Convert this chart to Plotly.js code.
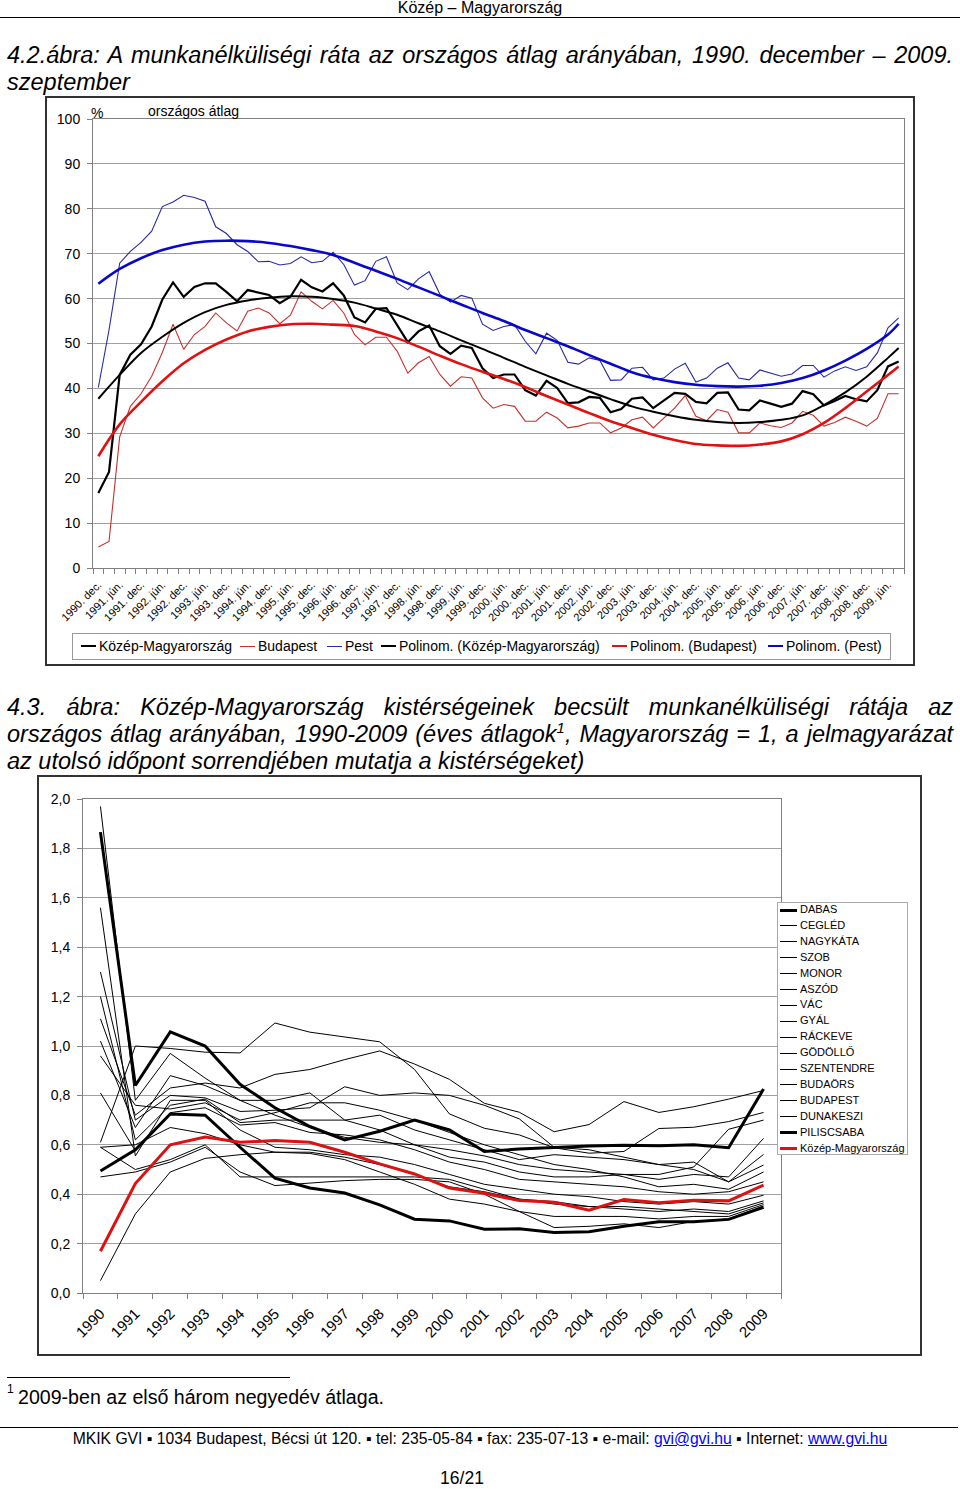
<!DOCTYPE html>
<html><head><meta charset="utf-8">
<script src="https://cdn.plot.ly/plotly-3.0.1.min.js"></script>
<style>
body{margin:0;background:#fff;}
#page{position:relative;width:960px;height:1489px;overflow:hidden;font-family:"Liberation Sans",Arial,sans-serif;color:#000;background:#fff;}
.abs{position:absolute;white-space:nowrap;}
.title{position:absolute;left:7px;width:946px;font-style:italic;font-size:23.5px;line-height:27px;}
.j{text-align:justify;text-align-last:justify;}
.box{position:absolute;box-sizing:border-box;border:2px solid #333;pointer-events:none;}
a{color:#0000ff;text-decoration:underline;}
</style></head>
<body><div id="page">
<div class="abs" style="left:0;width:960px;top:0px;text-align:center;font-size:16px;line-height:16px;">Közép – Magyarország</div>
<div class="abs" style="left:0;top:17px;width:960px;height:1px;background:#000;"></div>

<div class="title" style="top:42px;"><div class="j">4.2.ábra: A munkanélküliségi ráta az országos átlag arányában, 1990. december – 2009.</div><div>szeptember</div></div>

<div id="c1" style="position:absolute;left:45px;top:96px;width:870px;height:570px;"></div>
<div class="box" style="left:45px;top:96px;width:870px;height:570px;"></div>
<div class="abs" style="left:91px;top:105px;font-size:14px;line-height:16px;">%</div>
<div class="abs" style="left:148px;top:103px;font-size:14px;line-height:16px;">országos átlag</div>
<div id="leg1"></div>

<div class="title" style="top:694px;">
<div class="j">4.3. ábra: Közép-Magyarország kistérségeinek becsült munkanélküliségi rátája az</div>
<div class="j">országos átlag arányában, 1990-2009 (éves átlagok<sup style="font-size:15px;line-height:0;">1</sup>, Magyarország = 1, a jelmagyarázat</div>
<div>az utolsó időpont sorrendjében mutatja a kistérségeket)</div>
</div>

<div id="c2" style="position:absolute;left:37px;top:775px;width:885px;height:581px;"></div>
<div class="box" style="left:37px;top:775px;width:885px;height:581px;"></div>
<div id="leg2"></div>

<div class="abs" style="left:7px;top:1377px;width:283px;height:1px;background:#000;"></div>
<div class="abs" style="left:7px;top:1382px;font-size:12px;line-height:14px;">1</div>
<div class="abs" style="left:18px;top:1386px;font-size:19.6px;line-height:22px;">2009-ben az első három negyedév átlaga.</div>

<div class="abs" style="left:0;top:1427px;width:958px;height:1px;background:#000;"></div>
<div class="abs" style="left:0;width:960px;top:1430px;text-align:center;font-size:15.7px;line-height:18px;">MKIK GVI ▪ 1034 Budapest, Bécsi út 120. ▪ tel: 235-05-84 ▪ fax: 235-07-13 ▪ e-mail: <a>gvi@gvi.hu</a> ▪ Internet: <a>www.gvi.hu</a></div>
<div class="abs" style="left:0;width:924px;top:1470px;text-align:center;font-size:17.5px;line-height:16px;">16/21</div>
</div>

<script>
// ---------- Chart 1 data (quarterly, % of national average) ----------
const quarters = [
"1990. dec.",
"1991. márc.","1991. jún.","1991. szept.","1991. dec.",
"1992. márc.","1992. jún.","1992. szept.","1992. dec.",
"1993. márc.","1993. jún.","1993. szept.","1993. dec.",
"1994. márc.","1994. jún.","1994. szept.","1994. dec.",
"1995. márc.","1995. jún.","1995. szept.","1995. dec.",
"1996. márc.","1996. jún.","1996. szept.","1996. dec.",
"1997. márc.","1997. jún.","1997. szept.","1997. dec.",
"1998. márc.","1998. jún.","1998. szept.","1998. dec.",
"1999. márc.","1999. jún.","1999. szept.","1999. dec.",
"2000. márc.","2000. jún.","2000. szept.","2000. dec.",
"2001. márc.","2001. jún.","2001. szept.","2001. dec.",
"2002. márc.","2002. jún.","2002. szept.","2002. dec.",
"2003. márc.","2003. jún.","2003. szept.","2003. dec.",
"2004. márc.","2004. jún.","2004. szept.","2004. dec.",
"2005. márc.","2005. jún.","2005. szept.","2005. dec.",
"2006. márc.","2006. jún.","2006. szept.","2006. dec.",
"2007. márc.","2007. jún.","2007. szept.","2007. dec.",
"2008. márc.","2008. jún.","2008. szept.","2008. dec.",
"2009. márc.","2009. jún.","2009. szept."];

const kozep = [16.7,21.4,43,47.5,49.8,53.8,59.8,63.6,60.4,62.6,63.4,63.4,61.5,59.4,61.9,61.4,60.8,59,60.4,64.2,
62.5,61.6,63.4,60.7,55.8,54.7,57.7,57.9,54.2,50.3,52.7,54,49.4,47.7,49.5,49,44.5,42.3,43.1,43.1,
39.6,38.4,41.7,40.1,36.7,36.9,38.1,37.9,34.7,35.4,37.7,38,35.6,37.3,39,38.8,37,36.7,39,39.1,
35.3,35.1,37.3,36.6,35.9,36.6,39.4,38.7,36.2,37.2,38.3,37.6,37.1,39.6,44.9,46];

const budapest = [4.7,5.9,29.2,36,38.8,42.7,48,54.3,48.7,52,53.8,56.8,54.6,52.8,57.2,57.9,56.8,54.4,56.3,61.5,
59.4,57.7,59.6,56.8,52,49.7,51.4,51.4,48.3,43.4,45.7,47.1,43.1,40.5,42.6,42.3,37.9,35.6,36.4,36,
32.7,32.7,34.7,33.4,31.2,31.6,32.3,32.3,30.1,31.2,33,33.6,31.2,33.4,35.6,38.4,33.8,32.8,35.3,34.7,
30.1,30.1,32.3,31.7,31.3,32.3,34.9,34,31.6,32.4,33.6,32.7,31.6,33.3,38.8,38.8];

const pest = [40.2,53,67.9,70.5,72.5,75,80.5,81.5,83,82.5,81.7,76,74.5,72,70.5,68.2,68.3,67.5,67.8,69.3,
68,68.3,70.3,67.6,63,64,68.3,69.3,63.5,62,64.4,66,61,59.2,60.7,60.1,54.3,52.9,53.8,54.2,
50.5,47.7,52.3,50.7,45.8,45.4,46.8,46.2,41.8,41.9,44.5,44.7,41.9,42.3,44.3,45.6,41.4,42.3,44.5,45.7,
42.3,41.9,44.1,43.4,42.7,43.2,45.1,45.1,42.5,43.9,44.8,44,44.8,47.9,53.5,55.7];

// polynomial trend lines read at every labelled quarter plus the last one
const polyKozep = [37.7,43.0,47.9,51.5,54.6,57.0,58.6,59.6,60.2,60.5,60.4,59.9,59.1,57.8,56.4,54.5,52.7,50.7,48.8,46.8,
44.8,42.9,41.0,39.3,37.6,36.0,34.8,33.8,33.0,32.5,32.3,32.5,33.0,34.0,36.3,39.1,42.6,46.8,49.0];
const polyBudapest = [24.9,32.0,37.0,41.6,45.6,48.6,50.9,52.7,53.7,54.3,54.4,54.2,53.9,52.7,51.2,49.3,47.3,45.4,43.7,42.1,
40.3,38.3,36.4,34.5,32.7,31.2,29.7,28.5,27.6,27.3,27.2,27.5,28.2,29.8,32.3,35.6,39.3,43.0,44.9];
const polyPest = [63.3,66.6,69.0,70.8,72.0,72.7,72.9,72.8,72.4,71.7,70.8,69.7,68.0,66.2,64.4,62.5,60.6,58.7,56.8,55.0,
53.0,51.2,49.4,47.4,45.5,43.6,42.3,41.4,40.8,40.5,40.4,40.6,41.2,42.3,44.0,46.2,48.8,52.0,54.4];

// ---------- Chart 2 data (annual, Magyarország = 1) ----------
const years = ["1990","1991","1992","1993","1994","1995","1996","1997","1998","1999","2000","2001","2002","2003","2004","2005","2006","2007","2008","2009"];
const dabas      = [1.866,0.84,1.057,1.0,0.845,0.75,0.674,0.62,0.655,0.70,0.66,0.573,0.583,0.59,0.595,0.598,0.596,0.60,0.588,0.826];
const cegled     = [1.11,0.72,0.83,0.85,0.83,0.885,0.905,0.945,0.98,0.927,0.865,0.768,0.732,0.653,0.682,0.775,0.731,0.754,0.785,0.82];
const nagykata   = [0.61,1.0,0.99,0.975,0.972,1.093,1.056,1.038,1.017,0.905,0.725,0.667,0.64,0.588,0.566,0.573,0.666,0.671,0.694,0.731];
const szob       = [1.97,0.78,0.97,0.87,0.78,0.72,0.67,0.63,0.61,0.60,0.58,0.555,0.52,0.50,0.49,0.48,0.48,0.51,0.663,0.70];
const monor      = [1.02,0.67,0.88,0.84,0.78,0.78,0.81,0.70,0.66,0.60,0.55,0.53,0.49,0.47,0.47,0.48,0.46,0.48,0.47,0.626];
const aszod      = [1.30,0.70,0.80,0.79,0.735,0.74,0.75,0.835,0.80,0.81,0.80,0.76,0.705,0.59,0.58,0.55,0.52,0.53,0.45,0.561];
const vac        = [1.20,0.62,0.76,0.785,0.69,0.70,0.70,0.70,0.72,0.66,0.62,0.58,0.54,0.56,0.55,0.54,0.52,0.50,0.45,0.518];
const gyal       = [0.96,0.76,0.745,0.77,0.70,0.73,0.77,0.77,0.74,0.70,0.65,0.60,0.56,0.52,0.50,0.47,0.43,0.44,0.42,0.49];
const rackeve    = [0.81,0.575,0.73,0.75,0.68,0.69,0.65,0.64,0.62,0.58,0.53,0.50,0.46,0.45,0.44,0.43,0.41,0.40,0.41,0.45];
const godollo    = [1.56,0.555,0.78,0.78,0.66,0.59,0.58,0.56,0.55,0.52,0.48,0.44,0.42,0.40,0.39,0.37,0.36,0.37,0.36,0.396];
const szentendre = [0.59,0.60,0.67,0.645,0.60,0.57,0.57,0.55,0.52,0.48,0.43,0.41,0.38,0.37,0.35,0.34,0.33,0.34,0.33,0.373];
const budaors    = [0.59,0.50,0.54,0.60,0.47,0.47,0.47,0.47,0.47,0.47,0.46,0.42,0.38,0.36,0.35,0.35,0.34,0.33,0.32,0.365];
const budapestK  = [0.05,0.32,0.49,0.545,0.56,0.57,0.565,0.54,0.49,0.44,0.38,0.36,0.33,0.31,0.31,0.31,0.30,0.31,0.31,0.358];
const dunakeszi  = [0.47,0.49,0.53,0.59,0.49,0.435,0.445,0.455,0.46,0.46,0.45,0.40,0.33,0.265,0.27,0.28,0.265,0.29,0.30,0.352];
const piliscsaba = [0.494,0.58,0.725,0.72,0.59,0.465,0.425,0.405,0.357,0.299,0.292,0.258,0.26,0.245,0.248,0.27,0.288,0.288,0.298,0.347];
const kozepK     = [0.169,0.443,0.60,0.631,0.61,0.617,0.61,0.57,0.523,0.482,0.425,0.404,0.374,0.367,0.335,0.378,0.365,0.376,0.373,0.437];

// ---------- Chart 1 ----------
const qIdx = quarters.map((q,i)=>i);
const labelIdx = qIdx.filter(i=>i%2===0);
const labelText = labelIdx.map(i=>quarters[i]);
const trendIdx = labelIdx.concat([quarters.length-1]);
const FONT = '"Liberation Sans", Arial, sans-serif';

const s1 = [
  {name:'Közép-Magyarország', y:kozep, x:qIdx, color:'#000000', w:2.2, legW:2},
  {name:'Budapest', y:budapest, x:qIdx, color:'#c8302c', w:1.1, legW:1},
  {name:'Pest', y:pest, x:qIdx, color:'#2828a8', w:1.1, legW:1},
  {name:'Polinom. (Közép-Magyarország)', y:polyKozep, x:trendIdx, color:'#000000', w:2, legW:2, spline:true},
  {name:'Polinom. (Budapest)', y:polyBudapest, x:trendIdx, color:'#e21010', w:2.6, legW:2.5, spline:true},
  {name:'Polinom. (Pest)', y:polyPest, x:trendIdx, color:'#0808cc', w:2.6, legW:2.5, spline:true}
];
const traces1 = s1.map(s=>({type:'scatter',mode:'lines',name:s.name,x:s.x,y:s.y,
  line:{color:s.color,width:s.w,shape:s.spline?'spline':'linear',smoothing:1},hoverinfo:'skip'}));

const layout1 = {
  width:870,height:570,margin:{l:48,r:11,t:23,b:98},
  paper_bgcolor:'rgba(0,0,0,0)',plot_bgcolor:'#ffffff',showlegend:false,
  font:{family:FONT,size:14,color:'#000'},
  xaxis:{range:[-0.5,quarters.length-0.5],tickmode:'array',tickvals:labelIdx,ticktext:labelText,
    tickangle:-45,tickfont:{size:11,color:'#000'},ticks:'outside',ticklen:5,tickcolor:'rgba(0,0,0,0)',
    showgrid:false,zeroline:false,showline:true,linecolor:'#808080',linewidth:1,mirror:true,
    minor:{ticks:'outside',ticklen:5,tickcolor:'#808080',tick0:-0.5,dtick:1,showgrid:false}},
  yaxis:{range:[0,100],tick0:0,dtick:10,ticks:'outside',ticklen:5,tickcolor:'#808080',
    showgrid:true,gridcolor:'#a0a0a0',gridwidth:1,zeroline:false,showline:true,linecolor:'#808080',mirror:true,
    ticklabelstandoff:4,tickfont:{size:14,color:'#000'}}
};
Plotly.newPlot('c1',traces1,layout1,{displayModeBar:false,staticPlot:true});

// legend 1 (horizontal, below chart)
(function(){
  const lx = [81,240,327,381,612,768];
  let h = '<div class="abs" style="left:72px;top:633px;width:819px;height:27px;box-sizing:border-box;border:1px solid #999;background:#fff;"></div>';
  s1.forEach((s,i)=>{
    h += `<div class="abs" style="left:${lx[i]}px;top:${646-s.legW/2}px;width:15px;height:${s.legW}px;background:${s.color};"></div>`;
    h += `<div class="abs" style="left:${lx[i]+18}px;top:638px;font-size:14px;line-height:16px;">${s.name}</div>`;
  });
  document.getElementById('leg1').innerHTML = h;
})();

// ---------- Chart 2 ----------
const s2 = [
  {name:'DABAS',y:dabas,color:'#000',w:3},
  {name:'CEGLÉD',y:cegled,color:'#000',w:1},
  {name:'NAGYKÁTA',y:nagykata,color:'#000',w:1},
  {name:'SZOB',y:szob,color:'#000',w:1},
  {name:'MONOR',y:monor,color:'#000',w:1},
  {name:'ASZÓD',y:aszod,color:'#000',w:1},
  {name:'VÁC',y:vac,color:'#000',w:1},
  {name:'GYÁL',y:gyal,color:'#000',w:1},
  {name:'RÁCKEVE',y:rackeve,color:'#000',w:1},
  {name:'GÖDÖLLŐ',y:godollo,color:'#000',w:1},
  {name:'SZENTENDRE',y:szentendre,color:'#000',w:1},
  {name:'BUDAÖRS',y:budaors,color:'#000',w:1},
  {name:'BUDAPEST',y:budapestK,color:'#000',w:1},
  {name:'DUNAKESZI',y:dunakeszi,color:'#000',w:1},
  {name:'PILISCSABA',y:piliscsaba,color:'#000',w:3},
  {name:'Közép-Magyarország',y:kozepK,color:'#dd1111',w:3}
];
const yIdx = years.map((y,i)=>i);
const drawOrder = s2.filter(s=>s.w===1).concat(s2.filter(s=>s.w!==1));
const traces2 = drawOrder.map(s=>({type:'scatter',mode:'lines',name:s.name,x:yIdx,y:s.y,
  line:{color:s.color,width:s.w},hoverinfo:'skip'}));
const layout2 = {
  width:885,height:581,margin:{l:46,r:141,t:24,b:63},
  paper_bgcolor:'rgba(0,0,0,0)',plot_bgcolor:'#ffffff',showlegend:false,separators:',.',
  font:{family:FONT,size:14,color:'#000'},
  xaxis:{range:[-0.5,years.length-0.5],tickmode:'array',tickvals:yIdx,ticktext:years,tickangle:-45,
    tickfont:{size:15,color:'#000'},ticks:'outside',ticklen:5,tickcolor:'rgba(0,0,0,0)',
    showgrid:false,zeroline:false,showline:true,linecolor:'#808080',mirror:true,
    minor:{ticks:'outside',ticklen:5,tickcolor:'#808080',tick0:-0.5,dtick:1,showgrid:false}},
  yaxis:{range:[0,2],tick0:0,dtick:0.2,tickformat:'.1f',ticks:'outside',ticklen:5,tickcolor:'#808080',
    showgrid:true,gridcolor:'#a0a0a0',zeroline:false,showline:true,linecolor:'#808080',mirror:true,
    ticklabelstandoff:4,tickfont:{size:14,color:'#000'}}
};
Plotly.newPlot('c2',traces2,layout2,{displayModeBar:false,staticPlot:true});

// legend 2 (vertical box at right)
(function(){
  let h = '<div class="abs" style="left:777px;top:902px;width:131px;height:253px;box-sizing:border-box;border:1px solid #aaa;background:#fff;"></div>';
  s2.forEach((s,i)=>{
    const cy = 910 + 15.9*i;
    h += `<div class="abs" style="left:780px;top:${(cy-s.w/2).toFixed(1)}px;width:17px;height:${s.w}px;background:${s.color};"></div>`;
    h += `<div class="abs" style="left:800px;top:${(cy-7).toFixed(1)}px;font-size:11px;line-height:13px;">${s.name}</div>`;
  });
  document.getElementById('leg2').innerHTML = h;
})();
</script>
</body></html>
